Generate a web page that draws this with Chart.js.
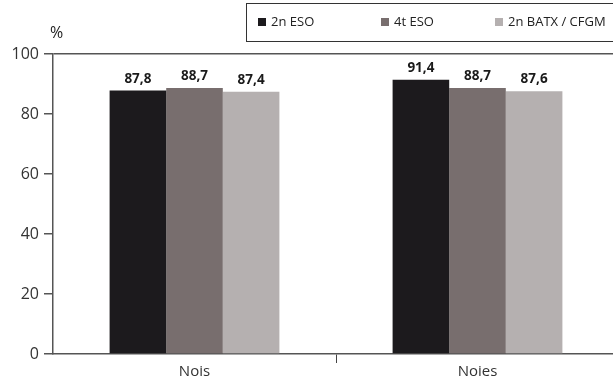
<!DOCTYPE html>
<html>
<head>
<meta charset="utf-8">
<script src="https://cdn.jsdelivr.net/npm/chart.js@4/dist/chart.umd.min.js"></script>
<style>
  html, body { margin: 0; padding: 0; background: #fff; overflow: hidden; }
  #wrap { width: 619px; height: 377px; }
</style>
</head>
<body>
<div id="wrap"><canvas id="chart" width="619" height="377"></canvas></div>
<script>
// data
const categories = ['Nois', 'Noies'];
const seriesNames = ['2n ESO', '4t ESO', '2n BATX / CFGM'];
const eso2 = [87.8, 91.4];
const eso4 = [88.7, 88.7];
const batx = [87.4, 87.6];
const yTicks = [0, 20, 40, 60, 80, 100];
const colors = ['#1c1a1d', '#786e6e', '#b5b0b0'];

const FONT = '"Open Sans", "Noto Sans", sans-serif';
const fmt = v => v.toFixed(1).replace('.', ',');

// value labels above each bar
const valueLabels = {
    id: 'valueLabels',
    afterDatasetsDraw(chart) {
        const ctx = chart.ctx;
        ctx.save();
        ctx.font = 'bold 13.5px ' + FONT;
        ctx.fillStyle = '#1a1a1a';
        ctx.textAlign = 'center';
        ctx.textBaseline = 'bottom';
        chart.data.datasets.forEach((ds, i) => {
            chart.getDatasetMeta(i).data.forEach((bar, j) => {
                ctx.fillText(fmt(ds.data[j]), bar.x, bar.y - 5);
            });
        });
        ctx.restore();
    }
};

// boxed legend at top right + "%" unit label
const boxLegend = {
    id: 'boxLegend',
    afterDraw(chart) {
        const ctx = chart.ctx;
        ctx.save();
        ctx.strokeStyle = '#333';
        ctx.lineWidth = 1;
        ctx.strokeRect(246.5, 3.5, 380, 38);
        const xs = [258, 381, 495];
        ctx.font = '13px ' + FONT;
        ctx.textBaseline = 'middle';
        ctx.textAlign = 'left';
        chart.data.datasets.forEach((ds, i) => {
            ctx.fillStyle = ds.backgroundColor;
            ctx.fillRect(xs[i], 18, 8, 8);
            ctx.fillStyle = '#222';
            ctx.fillText(ds.label, xs[i] + 13, 22.5);
        });
        ctx.font = '16px ' + FONT;
        ctx.fillStyle = '#222';
        ctx.fillText('%', 50, 33);
        ctx.restore();
    }
};

new Chart(document.getElementById('chart'), {
    type: 'bar',
    data: {
        labels: categories,
        datasets: [eso2, eso4, batx].map((d, i) => ({
            label: seriesNames[i],
            data: d,
            backgroundColor: colors[i],
            borderWidth: 0,
            barPercentage: 1,
            categoryPercentage: 0.6
        }))
    },
    options: {
        responsive: false,
        animation: false,
        layout: { padding: { top: 54, right: 0, left: 0, bottom: 0 } },
        plugins: {
            legend: { display: false },
            tooltip: { enabled: false }
        },
        scales: {
            x: {
                offset: true,
                afterFit: s => { s.height = 23; },
                grid: {
                    offset: true,
                    drawOnChartArea: false,
                    tickLength: 9,
                    color: c => c.index === 1 ? '#444' : 'rgba(0,0,0,0)'
                },
                border: { display: true, color: '#555', width: 1.5 },
                ticks: { color: '#333', font: { family: FONT, size: 15 }, padding: 0 }
            },
            y: {
                min: 0,
                max: 100,
                afterFit: s => { s.width = 53; },
                afterBuildTicks: s => { s.ticks = yTicks.map(v => ({ value: v })); },
                grid: {
                    tickLength: 9,
                    color: c => c.tick && c.tick.value === 100 ? '#555' : 'rgba(0,0,0,0)',
                    tickColor: '#555',
                    lineWidth: 1.5
                },
                border: { display: true, color: '#555', width: 1.5 },
                ticks: { color: '#333', font: { family: FONT, size: 16 }, padding: 5 }
            }
        }
    },
    plugins: [valueLabels, boxLegend]
});
</script>
</body>
</html>
